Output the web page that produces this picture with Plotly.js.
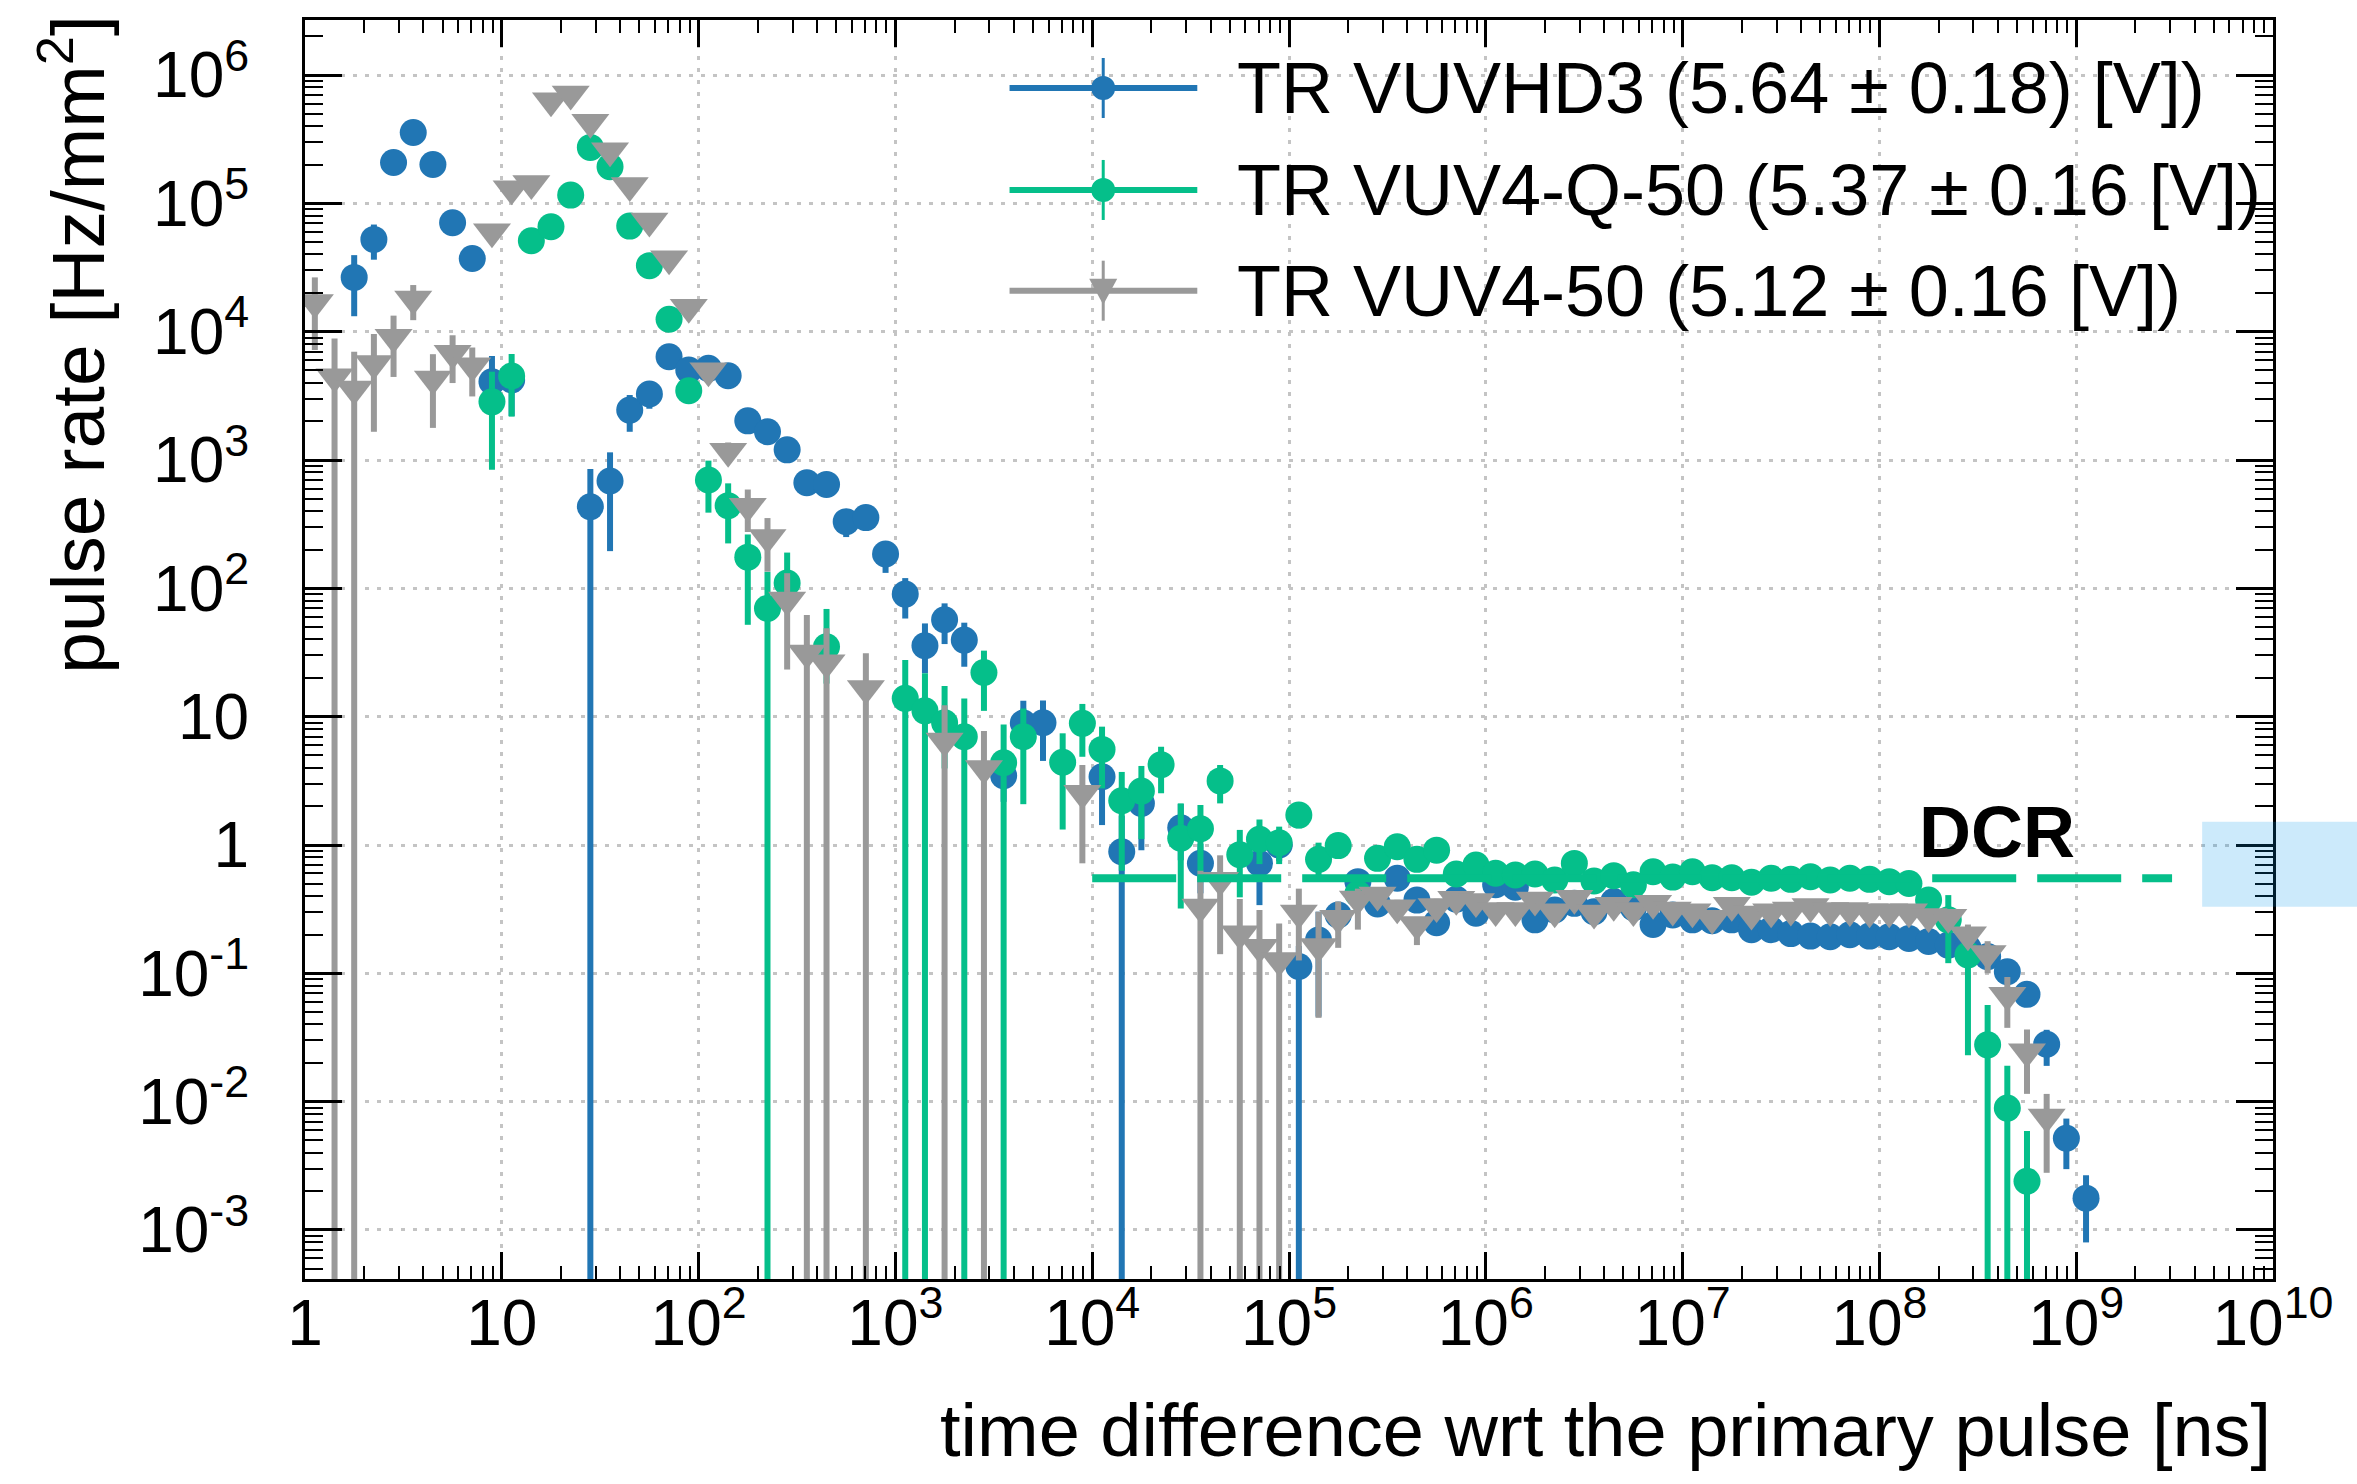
<!DOCTYPE html>
<html>
<head>
<meta charset="utf-8">
<script src="https://cdn.plot.ly/plotly-3.0.1.min.js"></script>
<style>
html,body{margin:0;padding:0;background:#fff;}
#chart{width:2357px;height:1484px;}
</style>
</head>
<body>
<div id="chart"></div>
<script>
// ---- bin centres of the time-difference histogram [ns] (10 bins per decade) ----
const binCenters = [1.122,1.413,1.778,2.239,2.818,3.548,4.467,5.623,7.079,8.913,
  11.22,14.13,17.78,22.39,28.18,35.48,44.67,56.23,70.79,89.13,
  112.2,141.3,177.8,223.9,281.8,354.8,446.7,562.3,707.9,891.3,
  1122,1413,1778,2239,2818,3548,4467,5623,7079,8913,
  1.122e4,1.413e4,1.778e4,2.239e4,2.818e4,3.548e4,4.467e4,5.623e4,7.079e4,8.913e4,
  1.122e5,1.413e5,1.778e5,2.239e5,2.818e5,3.548e5,4.467e5,5.623e5,7.079e5,8.913e5,
  1.122e6,1.413e6,1.778e6,2.239e6,2.818e6,3.548e6,4.467e6,5.623e6,7.079e6,8.913e6,
  1.122e7,1.413e7,1.778e7,2.239e7,2.818e7,3.548e7,4.467e7,5.623e7,7.079e7,8.913e7,
  1.122e8,1.413e8,1.778e8,2.239e8,2.818e8,3.548e8,4.467e8,5.623e8,7.079e8,8.913e8,
  1.122e9];

// ---- TR VUVHD3 ----
const vuvhd3Rate = [null,null,2.65e4,5.24e4,2.08e5,3.57e5,2.01e5,7.06e4,3.72e4,4070,
  4200,null,null,null,433,686,2450,3270,6380,5020,
  5180,4540,2020,1660,1200,665,646,331,356,185,
  90.2,35.7,56.9,39.5,null,3.47,8.91,8.97,null,null,
  3.4,0.887,2.11,null,1.36,0.72,null,null,0.72,1.0,
  0.113,0.182,0.285,0.518,0.347,0.55,0.372,0.248,0.378,0.294,
  0.49,0.468,0.261,0.312,0.351,0.302,0.363,0.324,0.24,0.285,
  0.261,0.257,0.261,0.219,0.219,0.204,0.195,0.193,0.2,0.195,
  0.193,0.187,0.177,0.166,0.158,0.135,0.103,0.0686,0.028,0.00518,
  0.00177];
const vuvhd3ErrUp = [null,null,1.3e4,1.6e4,1.2e4,1.5e4,1.2e4,6000,4000,2400,
  1500,null,null,null,418,462,760,700,600,500,
  500,450,230,180,130,80,80,50,50,40,
  30,17.6,19.5,14.5,null,1.3,4.4,4.4,null,null,
  0.93,0.8,0.58,null,0.73,0.3,null,null,0.1,0.25,
  0.05,0.12,0.07,0.08,0.06,0.07,0.05,0.04,0.05,0.04,
  0.05,0.05,0.04,0.04,0.04,0.035,0.035,0.03,0.03,0.03,
  0.025,0.025,0.025,0.02,0.02,0.02,0.018,0.018,0.018,0.018,
  0.017,0.017,0.016,0.016,0.016,0.015,0.013,0.01,0.0083,0.0022,
  0.0009];
const vuvhd3ErrDown = [null,null,1.33e4,1.6e4,1.2e4,1.5e4,1.2e4,6000,4000,1400,
  2000,null,null,null,433,491,790,760,600,500,
  500,450,230,180,130,80,80,80,50,53,
  32,13.9,20.1,15,null,1.3,2.6,4.45,null,null,
  1.97,0.887,1.2,null,0.6,0.3,null,null,0.38,0.25,
  0.113,0.136,0.07,0.08,0.06,0.07,0.05,0.04,0.05,0.04,
  0.05,0.05,0.04,0.04,0.04,0.035,0.035,0.03,0.03,0.03,
  0.025,0.025,0.025,0.02,0.02,0.02,0.018,0.018,0.018,0.018,
  0.017,0.017,0.016,0.016,0.016,0.015,0.013,0.01,0.009,0.0022,
  0.00097];

// ---- TR VUV4-Q-50 ----
const vuv4q50Rate = [null,null,null,null,null,null,null,null,null,2840,
  4520,5.12e4,6.58e4,1.16e5,2.73e5,1.93e5,6.65e4,3.27e4,1.25e4,3470,
  698,441,175,69.8,110,null,35.1,null,null,null,
  13.9,11.1,8.95,6.98,22.1,4.38,6.98,null,4.42,8.87,
  5.56,2.21,2.63,4.23,1.13,1.34,3.16,0.841,1.11,1.04,
  1.71,0.773,0.989,0.417,0.787,0.97,0.773,0.912,0.594,0.698,
  0.603,0.583,0.594,0.533,0.719,0.525,0.577,0.49,0.619,0.562,
  0.619,0.556,0.556,0.513,0.55,0.54,0.566,0.533,0.55,0.54,
  0.518,0.501,0.372,0.261,0.139,0.0277,0.00891,0.0024,null,null,
  null];
const vuv4q50ErrUp = [null,null,null,null,null,null,null,null,null,2040,
  2180,3000,4000,6000,1e4,8000,4000,2500,1200,600,
  291,217,88,65,80,null,34,null,null,null,
  13.8,10.7,8.4,6.9,10.6,4.3,4.6,null,3.0,3.7,
  2.8,1.5,1.5,1.6,0.98,0.71,1.04,0.47,0.47,0.35,
  0.43,0.27,0.2,0.1,0.13,0.14,0.12,0.12,0.08,0.09,
  0.07,0.07,0.07,0.06,0.07,0.05,0.05,0.05,0.05,0.05,
  0.05,0.04,0.04,0.04,0.04,0.04,0.04,0.035,0.035,0.035,
  0.033,0.033,0.05,0.146,0.06,0.029,0.0101,0.0035,null,null,
  null];
const vuv4q50ErrDown = [null,null,null,null,null,null,null,null,null,2000,
  2340,3000,4000,6000,1e4,8000,4000,2500,1200,600,
  309,217,123,69.8,39,null,17,null,null,null,
  13.9,11.1,5.0,6.98,11,4.38,4.9,null,3.1,4.0,
  2.8,1.58,1.52,1.7,0.81,0.74,1.05,0.45,0.4,0.33,
  0.36,0.2,0.2,0.1,0.13,0.14,0.12,0.12,0.08,0.09,
  0.07,0.07,0.07,0.06,0.07,0.05,0.05,0.05,0.05,0.05,
  0.05,0.04,0.04,0.04,0.04,0.04,0.04,0.035,0.035,0.035,
  0.033,0.033,0.05,0.141,0.116,0.0277,0.00891,0.0024,null,null,
  null];

// ---- TR VUV4-50 ----
const vuv450Rate = [1.69e4,4460,3570,5640,9040,1.8e4,4280,6780,5430,6.01e4,
  1.3e5,1.43e5,6.31e5,7.11e5,4.28e5,2.57e5,1.38e5,7.28e4,3.71e4,1.55e4,
  4970,1170,437,249,81.3,31.3,26.3,null,16.6,null,
  null,null,6.46,null,3.95,null,null,null,null,2.53,
  null,null,null,null,null,0.329,0.531,0.203,0.16,0.126,
  0.295,0.162,0.269,0.38,0.407,0.324,0.24,0.331,0.378,0.363,
  0.309,0.309,0.372,0.302,0.384,0.295,0.339,0.309,0.351,0.312,
  0.302,0.269,0.339,0.29,0.302,0.312,0.331,0.309,0.309,0.302,
  0.302,0.302,0.277,0.273,0.2,0.143,0.0676,0.0245,0.00759,null,
  null];
const vuv450ErrUp = [9600,4400,3400,3960,4300,5100,2400,2600,2100,5000,
  1e4,1e4,3e4,3e4,2e4,1.2e4,8000,4000,2500,1300,
  600,200,152,104,50,30.6,22.5,null,14.6,null,
  null,null,5.8,null,3.8,null,null,null,null,1.67,
  null,null,null,null,null,0.3,0.3,0.177,0.152,0.119,
  0.162,0.14,0.094,0.077,0.06,0.05,0.035,0.05,0.05,0.05,
  0.04,0.04,0.04,0.04,0.04,0.035,0.035,0.035,0.035,0.03,
  0.03,0.03,0.03,0.03,0.03,0.03,0.03,0.03,0.03,0.03,
  0.03,0.03,0.03,0.03,0.04,0.035,0.026,0.012,0.0039,null,
  null];
const vuv450ErrDown = [9700,4460,3570,3980,4600,5700,2500,2800,2300,5000,
  1e4,1e4,3e4,3e4,2e4,1.2e4,8000,4000,2500,1300,
  600,200,162,114,58,31.3,26.3,null,16.6,null,
  null,null,6.46,null,3.95,null,null,null,null,1.81,
  null,null,null,null,null,0.329,0.39,0.203,0.16,0.126,
  0.169,0.117,0.111,0.161,0.06,0.05,0.074,0.05,0.05,0.05,
  0.04,0.04,0.04,0.04,0.04,0.035,0.035,0.035,0.035,0.03,
  0.03,0.03,0.03,0.03,0.03,0.03,0.03,0.03,0.03,0.03,
  0.03,0.03,0.03,0.03,0.04,0.043,0.03,0.013,0.0048,null,
  null];

// ---- dark count rate reference line ----
const dcrTime = [1e4, 3.07e9];
const dcrRate = [0.55, 0.55];

// ---- labels ----
const seriesNames = ['TR VUVHD3 (5.64 \u00b1 0.18) [V])', 'TR VUV4-Q-50 (5.37 \u00b1 0.16 [V])', 'TR VUV4-50 (5.12 \u00b1 0.16 [V])'];
const seriesColors = ['#2176b4', '#05bf8a', '#999999'];
const xTickVals = [1,10,100,1e3,1e4,1e5,1e6,1e7,1e8,1e9,1e10];
const xTickText = ['1','10','10<sup>2</sup>','10<sup>3</sup>','10<sup>4</sup>','10<sup>5</sup>','10<sup>6</sup>','10<sup>7</sup>','10<sup>8</sup>','10<sup>9</sup>','10<sup>10</sup>'];
const yTickVals = [1e-3,1e-2,0.1,1,10,100,1e3,1e4,1e5,1e6];
const yTickText = ['10<sup>-3</sup>','10<sup>-2</sup>','10<sup>-1</sup>','1','10','10<sup>2</sup>','10<sup>3</sup>','10<sup>4</sup>','10<sup>5</sup>','10<sup>6</sup>'];
const xTitle = 'time difference wrt the primary pulse [ns]';
const yTitle = 'pulse rate [Hz/mm<sup>2</sup>]';

const FONT = '"Liberation Sans", Arial, Helvetica, sans-serif';

function series(y, up, down, color, symbol, size, name) {
  return {
    type: 'scatter', mode: 'markers', name: name, showlegend: false,
    x: binCenters, y: y,
    marker: {color: color, symbol: symbol, size: size, line: {width: 0}},
    error_y: {type: 'data', symmetric: false, array: up, arrayminus: down,
              thickness: 6, width: 0, color: color},
    cliponaxis: true
  };
}

const traces = [
  series(vuvhd3Rate, vuvhd3ErrUp, vuvhd3ErrDown, seriesColors[0], 'circle', 27, seriesNames[0]),
  series(vuv4q50Rate, vuv4q50ErrUp, vuv4q50ErrDown, seriesColors[1], 'circle', 27, seriesNames[1]),
  series(vuv450Rate, vuv450ErrUp, vuv450ErrDown, seriesColors[2], 'triangle-down', 33, seriesNames[2]),
  {type: 'scatter', mode: 'lines', x: dcrTime, y: dcrRate, showlegend: false,
   line: {color: seriesColors[1], width: 8, dash: '84px,21px'}, hoverinfo: 'skip'}
];

// manual legend (line + bar + marker + text), in paper coordinates
const legRowsY = [0.946, 0.865, 0.785];
const legLineX = [0.358, 0.4534];
const legMarkX = 0.4056;
const legTextX = 0.4726;

const shapes = [];
const annotations = [];
for (let i = 0; i < 3; i++) {
  const c = seriesColors[i];
  shapes.push({type: 'line', xref: 'paper', yref: 'paper', x0: legLineX[0], x1: legLineX[1],
               y0: legRowsY[i], y1: legRowsY[i], line: {color: c, width: 6}});
  shapes.push({type: 'line', xref: 'paper', yref: 'paper', ysizemode: 'pixel', yanchor: legRowsY[i],
               x0: legMarkX, x1: legMarkX, y0: -30, y1: 30, line: {color: c, width: 3}});
  if (i < 2) {
    shapes.push({type: 'circle', xref: 'paper', yref: 'paper', xsizemode: 'pixel', ysizemode: 'pixel',
                 xanchor: legMarkX, yanchor: legRowsY[i], x0: -12, x1: 12, y0: -12, y1: 12,
                 fillcolor: c, line: {width: 0}});
  } else {
    shapes.push({type: 'path', xref: 'paper', yref: 'paper', xsizemode: 'pixel', ysizemode: 'pixel',
                 xanchor: legMarkX, yanchor: legRowsY[i], path: 'M-14,12 L14,12 L0,-14 Z',
                 fillcolor: c, line: {width: 0}});
  }
  annotations.push({xref: 'paper', yref: 'paper', x: legTextX, y: legRowsY[i], xanchor: 'left', yanchor: 'middle',
                    text: seriesNames[i], showarrow: false, font: {family: FONT, size: 72, color: '#000'}});
}
// DCR label
annotations.push({xref: 'paper', yref: 'paper', x: 0.86, y: 0.3554, xanchor: 'center', yanchor: 'middle',
                  text: '<b>DCR</b>', showarrow: false, font: {family: FONT, size: 72, color: '#000'}});
// axis titles (ROOT style: aligned to the axis end)
annotations.push({xref: 'paper', yref: 'paper', x: 1.0, y: -0.1207, xanchor: 'right', yanchor: 'middle',
                  text: xTitle, showarrow: false, font: {family: FONT, size: 74, color: '#000'}});
annotations.push({xref: 'paper', yref: 'paper', x: -0.118, y: 1.006, xanchor: 'center', yanchor: 'top',
                  textangle: -90, text: yTitle, showarrow: false, font: {family: FONT, size: 75, color: '#000'}});

// light blue band at the right edge
shapes.push({type: 'rect', xref: 'paper', yref: 'paper', x0: 0.964, x1: 1.0427, y0: 0.2957, y1: 0.3632,
             fillcolor: 'rgba(0,150,235,0.2)', line: {width: 0}, layer: 'above'});

const axisCommon = {
  type: 'log', showline: true, linecolor: '#000', linewidth: 3, mirror: 'allticks',
  ticks: 'inside', tickcolor: '#000', tickwidth: 3, tickmode: 'array',
  showgrid: true, gridcolor: '#c4c4c4', gridwidth: 3, griddash: '4px,8px',
  zeroline: false, automargin: false,
  tickfont: {family: FONT, size: 64, color: '#000'}
};

const layout = {
  width: 2357, height: 1484,
  margin: {l: 305, r: 84, t: 20, b: 205, pad: 0},
  paper_bgcolor: '#fff', plot_bgcolor: '#fff',
  showlegend: false,
  font: {family: FONT, color: '#000'},
  xaxis: Object.assign({}, axisCommon, {
    range: [0, 10], tickvals: xTickVals, ticktext: xTickText, ticklen: 27, ticklabelstandoff: -14,
    minor: {dtick: 'D1', ticks: 'inside', ticklen: 13, tickwidth: 2, tickcolor: '#000', showgrid: false}
  }),
  yaxis: Object.assign({}, axisCommon, {
    range: [-3.382, 6.429], tickvals: yTickVals, ticktext: yTickText, ticklen: 37, ticklabelstandoff: 40,
    minor: {dtick: 'D1', ticks: 'inside', ticklen: 18, tickwidth: 2, tickcolor: '#000', showgrid: false}
  }),
  shapes: shapes,
  annotations: annotations
};

Plotly.newPlot('chart', traces, layout, {displayModeBar: false, staticPlot: true});
</script>
</body>
</html>
